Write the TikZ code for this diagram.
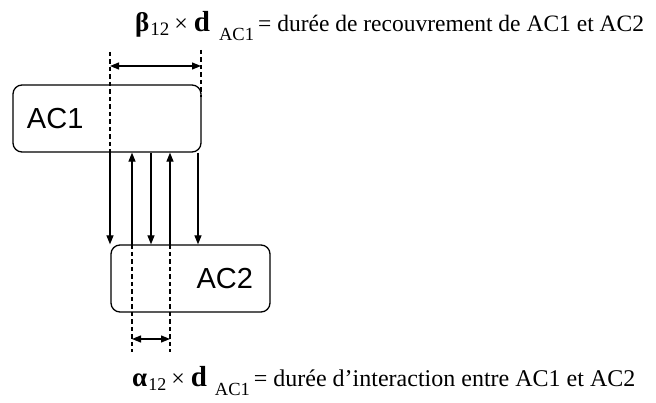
\documentclass[tikz,border=0pt]{standalone}
\usepackage{fontspec}
\usepackage{graphicx}
\setmainfont{Liberation Serif}
\newfontfamily\boxfont{Liberation Sans}
\usetikzlibrary{arrows.meta}
\newcommand{\fsz}[1]{\fontsize{#1}{#1}\selectfont}
\tikzset{
  box/.style={draw, line width=1.3pt, rounded corners=9pt, inner ysep=0pt,
    minimum height=67pt, font=\boxfont\fontsize{29}{31}\selectfont},
  arr/.style={line width=1.2pt, -{Triangle[length=9pt,width=7pt]}},
  dbl/.style={line width=1.2pt, {Triangle[length=9pt,width=7pt]}-{Triangle[length=9pt,width=7pt]}},
  dsh/.style={line width=1.2pt, dash pattern=on 4.5pt off 3pt},
  formula/.style={anchor=base west, inner sep=0pt}
}
\begin{document}
\begin{tikzpicture}[x=1pt,y=-1pt]
\useasboundingbox (0,0) rectangle (656,403);
% boxes
\node[box, text width=160pt, inner xsep=14pt, align=left] (ac1) at (107,118.5) {AC1};
\node[box, text width=125pt, inner xsep=17pt, align=right] (ac2) at (190.5,278.5) {AC2};
% x positions
\coordinate (xa) at (110,0);
\coordinate (xb) at (132,0);
\coordinate (xc) at (151,0);
\coordinate (xd) at (170,0);
\coordinate (xe) at (198,0);
% dashed guides
\coordinate (ta) at (110,52);
\coordinate (tf) at (201,50);
\coordinate (bf) at (201,97);
\coordinate (bb) at (132,352);
\coordinate (bd) at (170,352);
\draw[dsh] (ta) -- (ac1.south -| xa);
\draw[dsh] (tf) -- (bf);
\draw[dsh] (ac2.north -| xb) -- (bb);
\draw[dsh] (ac2.north -| xd) -- (bd);
% dimension arrows
\coordinate (da) at (110,66);
\coordinate (df) at (201,66);
\draw[dbl] (da) -- (df);
\coordinate (db) at (132,339);
\coordinate (dd) at (170,339);
\draw[dbl] (db) -- (dd);
% connectors between boxes
\draw[arr] (ac1.south -| xa) -- (ac2.north -| xa);
\draw[arr] (ac2.north -| xb) -- (ac1.south -| xb);
\draw[arr] (ac1.south -| xc) -- (ac2.north -| xc);
\draw[arr] (ac2.north -| xd) -- (ac1.south -| xd);
\draw[arr] (ac1.south -| xe) -- (ac2.north -| xe);
% formulas
\node[formula] (beta) at (135,32) {{\fsz{27}\textbf{β}}\hspace{1pt}\raisebox{-4pt}{\fsz{19}12}\hspace{5pt}{\fsz{24}×}\hspace{6pt}{\fsz{29}\textbf{d}}\hspace{9pt}\raisebox{-9pt}{\fsz{18.5}AC1}\hspace{4pt}{\fsz{23.5}=\hspace{6pt}durée de recouvrement de AC1 et AC2}};
\node[formula] (alpha) at (132,386) {{\fsz{27}\textbf{α}}\hspace{1pt}\raisebox{-4pt}{\fsz{18}12}\hspace{5pt}{\fsz{24}×}\hspace{6pt}{\fsz{29}\textbf{d}}\hspace{8pt}\raisebox{-9pt}{\fsz{18.5}AC1}\hspace{4pt}{\fsz{24}=\hspace{6pt}durée d’interaction entre AC1 et AC2}};
\end{tikzpicture}
\end{document}
